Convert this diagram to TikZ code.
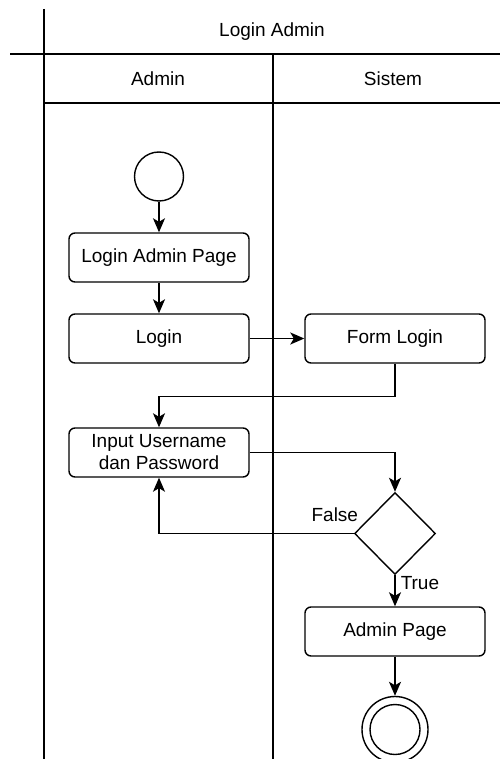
\documentclass[tikz,border=0pt]{standalone}
\usepackage{fontspec}
\setmainfont{Liberation Sans}
\usetikzlibrary{arrows.meta}
\usetikzlibrary{shapes.geometric}
\usetikzlibrary{positioning}
\tikzstyle{arrow} = [line width=1.5pt,-{Stealth[length=14pt,width=12pt,inset=3.5pt]}]
\tikzstyle{act} = [rectangle, rounded corners=6pt, draw=black, line width=1.4pt, minimum width=180pt, minimum height=49pt, inner sep=3pt, align=center]
\tikzstyle{startst} = [circle, draw=black, line width=1.4pt, minimum size=49pt, inner sep=0pt]
\tikzstyle{endst} = [circle, draw=black, line width=1.4pt, minimum size=66pt, inner sep=0pt, path picture={\draw [line width=1.4pt] (path picture bounding box.center) circle (25pt);}]
\tikzstyle{decision} = [diamond, draw=black, line width=1.4pt, minimum width=81pt, minimum height=82pt, inner sep=0pt]
\tikzstyle{lane} = [line width=1.4pt]
\tikzstyle{lbl} = [inner sep=2pt]

\begin{document}
\begin{tikzpicture}[x=1pt, y=-1pt, node distance=81pt, font=\fontsize{19}{22}\selectfont]
		\useasboundingbox (0,0) rectangle (500,759);
		% swimlanes
		\draw [lane] (44,9) -- (44,759);
		\draw [lane] (10,54) -- (500,54);
		\draw [lane] (44,103) -- (500,103);
		\draw [lane] (273,54) -- (273,759);
		\node (title) at (272,31.5) {Login Admin};
		\node (lanea) at (158,79) {Admin};
		\node (laneb) at (393,79) {Sistem};
		% activities
		\node (start) [startst] at (159,176.5) {};
		\node (lap) [act, below of=start] {Login Admin Page};
		\node (login) [act, below of=lap] {Login};
		\node (form) [act, right of=login, xshift=155pt] {Form Login};
		\node (input) [act, below of=login, yshift=-33pt] {Input Username\\dan Password};
		\node (check) [decision, below of=form, yshift=-114pt] {};
		\node (admin) [act, below of=check, yshift=-17pt] {Admin Page};
		\node (stop) [endst, below of=admin, yshift=-17pt] {};
		\draw [arrow] (start) -- (lap);
		\draw [arrow] (lap) -- (login);
		\draw [arrow] (login) -- (form);
		\draw [arrow] (form.south) -- ++(0,33) -| (input.north);
		\draw [arrow] (input.east) -| (check.north);
		\draw [arrow] (check.west) -| node [lbl, pos=0, anchor=south east, xshift=7pt, yshift=9pt] {False} (input.south);
		\draw [arrow] (check.south) -- node [lbl, pos=0, anchor=north west, xshift=3pt, yshift=2pt] {True} (admin.north);
		\draw [arrow] (admin) -- (stop);
\end{tikzpicture}
\end{document}
